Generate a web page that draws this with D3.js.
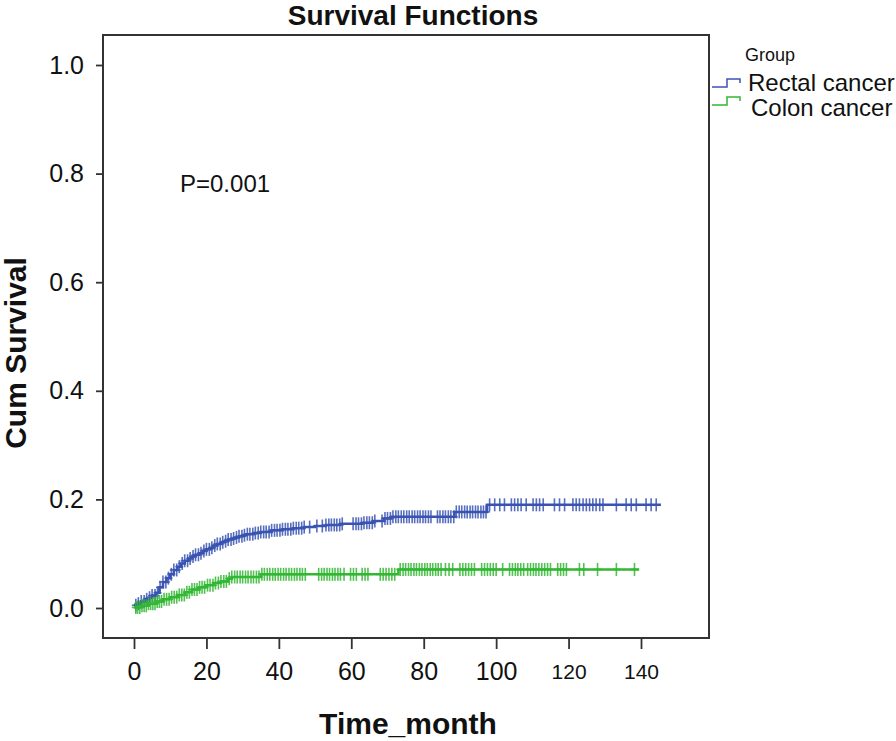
<!DOCTYPE html>
<html><head><meta charset="utf-8">
<script src="https://cdn.jsdelivr.net/npm/d3@7"></script>
<style>body{margin:0;background:#fff}svg{display:block}</style>
</head><body>
<svg id="c" width="896" height="741"></svg>
<script>
const xTicks = [0, 20, 40, 60, 80, 100, 120, 140];
const yTicks = [0.0, 0.2, 0.4, 0.6, 0.8, 1.0];
const groups = ["Rectal cancer", "Colon cancer"];

// Rectal cancer: step events (time, value)
const rectalTimes = [0,1,2,3,4,5,6,7,8,9,10,11,12,13,14,15,16,17,18,19,20,21,22,23,24,25,26,27,28,29,30,31,33,35,38,41,44,47,50,53,57,63,66,69,71,88.5,97.5];
const rectalValues = [0.005,0.008,0.012,0.016,0.019,0.023,0.028,0.038,0.048,0.055,0.062,0.070,0.076,0.082,0.087,0.091,0.095,0.098,0.101,0.105,0.108,0.111,0.115,0.118,0.121,0.123,0.126,0.128,0.130,0.132,0.134,0.136,0.138,0.140,0.143,0.145,0.147,0.149,0.151,0.153,0.155,0.157,0.160,0.165,0.168,0.177,0.190];
const rectalEnd = 145.5;
const rectalCensor = [0.5,1.2,2,2.8,3.5,4.3,5,5.8,6.5,7.2,8,8.8,9.5,10.3,11,11.8,12.5,13.3,14,14.8,15.5,16.3,17,17.8,18.5,19.3,20,20.8,21.5,22.3,23,23.8,24.5,25.3,26,26.8,27.5,28.3,29,29.8,30.5,31.3,32,32.8,33.5,34.3,35,35.8,36.5,37.3,38,38.8,39.5,40.3,41,41.8,42.5,43.3,44,44.8,45.5,46.3,47,48.5,50.5,52,53,53.8,54.5,55.3,56,56.8,57.5,60.5,61.3,62,62.8,63.5,64.3,65,65.8,66.5,68.5,69.3,70,70.8,71.5,72.3,73,73.8,74.5,75.3,76,76.8,77.5,78.3,79,79.8,80.5,81.3,82,83.8,84.5,85.3,86,86.8,87.5,88.3,89,89.8,90.5,91.3,92,92.8,93.5,94.3,95,95.8,96.5,97.2,98.2,99.6,101,102.3,104.2,105.1,106,106.9,108.3,110.2,111.1,112,113,116.1,117.5,118.9,121.2,122.1,123,124,124.9,125.8,126.7,127.6,128.6,129.5,133.2,135.9,137.3,138.7,141.4,142.8,144.2];

// Colon cancer
const colonTimes = [0,2,4,6,8,10,12,14,16,18,20,22,24,26,27,35,73];
const colonValues = [0.001,0.004,0.008,0.012,0.016,0.020,0.024,0.029,0.034,0.038,0.042,0.046,0.049,0.054,0.057,0.062,0.071];
const colonEnd = 139.5;
const colonCensor = [0.5,1,1.6,2.2,2.8,3.4,4,4.6,5.2,5.8,6.4,7,7.6,8.3,9,9.7,10.4,11.1,11.8,12.5,13.2,13.9,14.6,15.3,16,16.7,17.4,18.1,18.8,19.5,20.3,21,21.8,22.5,23.3,24,24.8,25.5,26.3,27,27.8,28.5,29.3,30,30.8,31.5,32.3,33,33.8,34.5,35.3,36,36.8,37.5,38.3,39,39.8,40.5,41.3,42,42.8,43.5,44.3,45,45.8,46.5,47.3,51,51.8,52.5,53.3,54,54.8,55.5,56.3,57,58,59.8,60.6,61.4,63,63.8,64.6,68,68.8,69.6,70.4,71.2,72,73.5,74.3,75,75.8,76.5,77.3,78,78.8,79.5,80.3,81,81.8,82.5,83.3,84,84.8,86,87,88,90,90.8,91.6,92.4,93.2,94,96,96.8,97.6,98.4,99.2,100,101.8,103.7,104.5,105.3,106,106.8,107.6,108.7,109.5,110.3,111,111.8,112.6,113.4,114.2,115,117,117.8,118.6,119.4,123,124.2,128,133.2,138.2];

const colors = ["#3a53b2", "#33b733"];

const svg = d3.select("#c");
const x = d3.scaleLinear().domain([0, 140]).range([134, 641]);
const y = d3.scaleLinear().domain([0, 1]).range([608, 65]);
const frame = {l: 103, r: 709, t: 35, b: 638};
const FONT = "Liberation Sans, Arial, sans-serif";

// Title
svg.append("text").attr("x", 413).attr("y", 25).attr("text-anchor", "middle")
  .attr("font-family", FONT).attr("font-weight", "bold")
  .attr("font-size", 28).attr("fill", "#111").text("Survival Functions");

// Frame
svg.append("rect").attr("x", frame.l).attr("y", frame.t)
  .attr("width", frame.r - frame.l).attr("height", frame.b - frame.t)
  .attr("fill", "none").attr("stroke", "#333").attr("stroke-width", 2);

// Y axis
const yAxis = d3.axisLeft(y).tickValues(yTicks).tickFormat(d3.format(".1f")).tickSize(7).tickPadding(12);
const gy = svg.append("g").attr("transform", `translate(${frame.l},0)`).call(yAxis);
gy.select(".domain").remove();
gy.selectAll("line").attr("stroke", "#333").attr("stroke-width", 1.8);
gy.selectAll("text").attr("font-family", FONT).attr("font-size", 25).attr("fill", "#111");

// X axis
const xAxis = d3.axisBottom(x).tickValues(xTicks).tickSize(11).tickPadding(13);
const gx = svg.append("g").attr("transform", `translate(0,${frame.b})`).call(xAxis);
gx.select(".domain").remove();
gx.selectAll("line").attr("stroke", "#333").attr("stroke-width", 1.8);
gx.selectAll("text").attr("font-family", FONT)
  .attr("font-size", d => d >= 120 ? 21 : 25).attr("fill", "#111")
  .attr("dy", d => d >= 120 ? "0.79em" : "0.72em");

// Axis titles
svg.append("text").attr("x", 408).attr("y", 734).attr("text-anchor", "middle")
  .attr("font-family", FONT).attr("font-weight", "bold")
  .attr("font-size", 30).attr("fill", "#111").text("Time_month");
svg.append("text").attr("transform", "translate(26,353) rotate(-90)").attr("text-anchor", "middle")
  .attr("font-family", FONT).attr("font-weight", "bold")
  .attr("font-size", 30).attr("fill", "#111").text("Cum Survival");

// Curves
const series = [
  {times: rectalTimes, values: rectalValues, end: rectalEnd, censor: rectalCensor},
  {times: colonTimes, values: colonValues, end: colonEnd, censor: colonCensor}
];
const line = d3.line().x(d => x(d[0])).y(d => y(d[1])).curve(d3.curveStepAfter);
series.forEach((s, i) => {
  const pts = s.times.map((t, j) => [t, s.values[j]]);
  pts.push([s.end, s.values[s.values.length - 1]]);
  svg.append("path").datum(pts).attr("d", line).attr("fill", "none")
    .attr("stroke", colors[i]).attr("stroke-width", 2.5);
  const valAt = t => { const k = d3.bisectRight(s.times, t) - 1; return s.values[Math.max(0, k)]; };
  const g = svg.append("g").attr("stroke", colors[i]).attr("stroke-width", 1.6).attr("stroke-opacity", 0.85);
  s.censor.forEach(t => {
    const cx = x(t), cy = y(valAt(t));
    g.append("line").attr("x1", cx).attr("x2", cx).attr("y1", cy - 6.5).attr("y2", cy + 6.5);
    g.append("line").attr("x1", cx - 4).attr("x2", cx + 4).attr("y1", cy).attr("y2", cy);
  });
});

// P value
svg.append("text").attr("x", 180).attr("y", 192)
  .attr("font-family", FONT).attr("font-size", 24)
  .attr("fill", "#111").text("P=0.001");

// Legend
svg.append("text").attr("x", 745).attr("y", 61)
  .attr("font-family", "Liberation Sans Narrow, Liberation Sans, Arial, sans-serif").attr("font-size", 18)
  .attr("fill", "#111").text("Group");
const legY = [87, 105];
const legTx = [748, 751];
const legBase = [91, 116];
groups.forEach((gname, i) => {
  const by = legY[i];
  svg.append("path")
    .attr("d", `M712,${by}H727V${by - 8}H740V${by - 4}`)
    .attr("fill", "none").attr("stroke", colors[i]).attr("stroke-width", 1.5);
  svg.append("text").attr("x", legTx[i]).attr("y", legBase[i])
    .attr("font-family", FONT).attr("font-size", 24)
    .attr("fill", "#111").text(gname);
});
</script>
</body></html>
